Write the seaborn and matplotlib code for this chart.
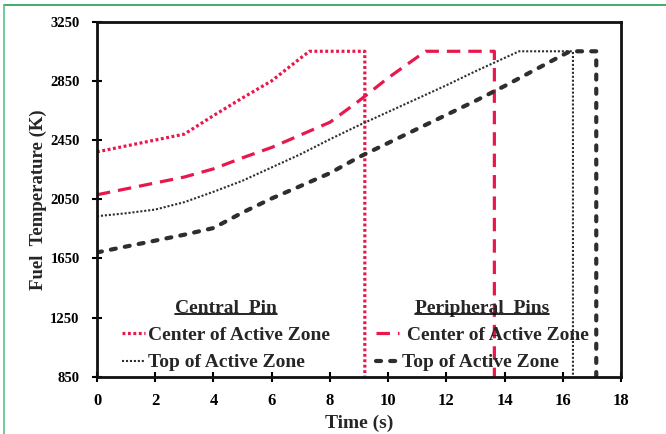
import numpy as np
import pandas as pd
import matplotlib
matplotlib.use("Agg")
import matplotlib.pyplot as plt
from matplotlib.lines import Line2D
from matplotlib.ticker import MultipleLocator
import seaborn as sns

# ---- data ----
t_cc = [0, 1, 2, 3, 4, 5, 6, 7, 7.3, 9.2, 9.2]
T_cc = [2370, 2410, 2450, 2490, 2615, 2735, 2850, 3005, 3050, 3050, 850]

t_pc = [0, 1, 2, 3, 4, 5, 6, 7, 8, 9, 10, 11, 11.3, 13.65, 13.65]
T_pc = [2080, 2120, 2160, 2200, 2255, 2330, 2400, 2485, 2570, 2715, 2870, 3010, 3050, 3050, 850]

t_ct = [0, 1, 2, 3, 4, 5, 6, 7, 8, 9, 10, 11, 12, 13, 14, 14.5, 16.35, 16.35]
T_ct = [1935, 1955, 1980, 2030, 2100, 2175, 2265, 2355, 2455, 2550, 2640, 2730, 2820, 2915, 3005, 3050, 3050, 850]

t_pt = [0, 1, 2, 3, 4, 5, 6, 7, 8, 9, 10, 11, 12, 13, 14, 15, 16, 16.25, 17.15, 17.15]
T_pt = [1690, 1730, 1770, 1810, 1855, 1960, 2055, 2140, 2226, 2335, 2430, 2525, 2620, 2715, 2815, 2920, 3025, 3050, 3050, 850]

series_names = ["Central center", "Peripheral center", "Central top", "Peripheral top"]
legend_label = "Center of Active Zone"
legend_label2 = "Top of Active Zone"
group_titles = ["Central  Pin", "Peripheral  Pins"]
x_ticks = list(range(0, 19, 2))
y_ticks = list(range(850, 3251, 400))

sns.set_style("white")
plt.rcParams["font.family"] = ["Liberation Serif", "DejaVu Serif"]
plt.rcParams["font.weight"] = "bold"

fig = plt.figure(figsize=(6.66, 4.34), dpi=100)
ax = fig.add_axes([97 / 666, 1 - 376.7 / 434, 524 / 666, 355 / 434])

RED = "#e8184c"
DARK = "#2e2e2e"

styles = {
    "Central center": dict(color=RED, lw=2.3, dashes=(0.9, 0.8)),
    "Peripheral center": dict(color=RED, lw=2.3, dashes=(4.2, 2.5)),
    "Central top": dict(color=DARK, lw=1.5, dashes=(1, 0.9)),
    "Peripheral top": dict(color=DARK, lw=3.0, dashes=(1.2, 2.2)),
}
data = {
    "Central center": (t_cc, T_cc),
    "Peripheral center": (t_pc, T_pc),
    "Central top": (t_ct, T_ct),
    "Peripheral top": (t_pt, T_pt),
}
for name in series_names:
    t, T = data[name]
    df = pd.DataFrame({"t": t, "T": T})
    st = styles[name]
    n_before = len(ax.lines)
    sns.lineplot(data=df, x="t", y="T", ax=ax, sort=False, estimator=None,
                 color=st["color"], lw=st["lw"])
    ln = ax.lines[n_before]
    ln.set_dashes(st["dashes"])
    if name == "Peripheral top":
        ln.set_dash_capstyle("round")

ax.set_xlim(0, 18)
ax.set_ylim(850, 3250)
ax.set_xticks(x_ticks)
ax.set_yticks(y_ticks)
ax.xaxis.set_minor_locator(MultipleLocator(1))
ax.yaxis.set_minor_locator(MultipleLocator(200))
ax.tick_params(which="major", direction="inout", length=7, width=1.5, colors="black")
ax.tick_params(which="minor", direction="inout", length=5, width=1.3)
ax.tick_params(axis="x", bottom=True, top=False, labelsize=12, pad=8)
ax.tick_params(axis="y", left=True, right=False, labelsize=10.5, pad=9)
for lab in ax.get_xticklabels() + ax.get_yticklabels():
    lab.set_fontweight("bold")
for s in ax.spines.values():
    s.set_linewidth(2.0)
    s.set_color("#111111")

ax.set_xlabel("Time (s)", fontsize=14, fontweight="bold", labelpad=4)
ax.set_ylabel("Fuel  Temperature (K)", fontsize=13.5, fontweight="bold", labelpad=2)


def proxy(name):
    st = styles[name]
    l = Line2D([], [], color=st["color"], lw=st["lw"])
    l.set_dashes(st["dashes"])
    if name == "Peripheral top":
        l.set_dash_capstyle("round")
    return l


leg_kw = dict(frameon=False, loc="lower left", borderpad=0, borderaxespad=0,
              handlelength=1.2, handletextpad=0.15, labelspacing=0.5,
              prop=dict(family="Liberation Serif", weight="bold", size=14),
              title_fontproperties=dict(family="Liberation Serif", weight="bold", size=14))
leg1 = ax.legend([proxy("Central center"), proxy("Central top")],
                 [legend_label, legend_label2], title=group_titles[0],
                 bbox_to_anchor=(0.048, 0.015), **leg_kw)
ax.add_artist(leg1)
leg2 = ax.legend([proxy("Peripheral center"), proxy("Peripheral top")],
                 [" " + legend_label, legend_label2], title=group_titles[1],
                 bbox_to_anchor=(0.532, 0.015), **leg_kw)

# underline legend titles
fig.canvas.draw()
r = fig.canvas.get_renderer()
inv = fig.transFigure.inverted()
for lg in (leg1, leg2):
    bb = lg.get_title().get_window_extent(r)
    (x0, y0), (x1, _) = inv.transform([[bb.x0, bb.y0 + 2.5], [bb.x1, bb.y0]])
    fig.add_artist(Line2D([x0, x1], [y0, y0], transform=fig.transFigure,
                          color="black", lw=1.2))

# green frame lines of the original figure
fig.add_artist(Line2D([3.5 / 666, 1], [1 - 4.5 / 434, 1 - 4.5 / 434],
                      transform=fig.transFigure, color="#1f9e50", lw=1.2))
fig.add_artist(Line2D([3.5 / 666, 3.5 / 666], [0, 1 - 4.5 / 434],
                      transform=fig.transFigure, color="#5cc08a", lw=1.2))

fig.savefig("out.png", dpi=100)
